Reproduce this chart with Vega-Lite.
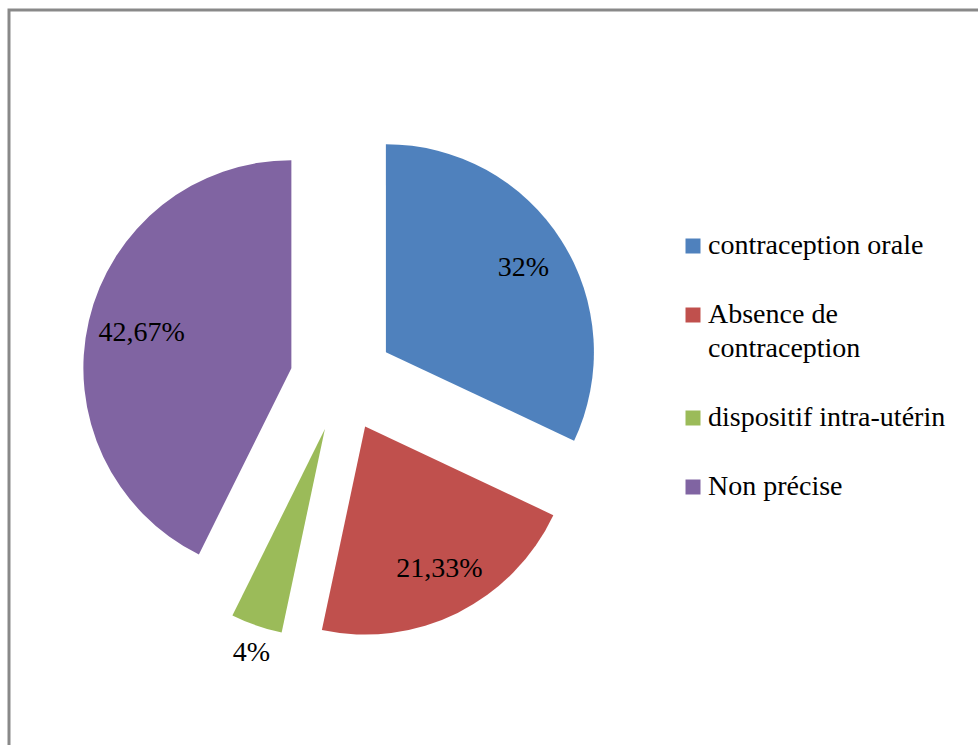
{
  "$schema": "https://vega.github.io/schema/vega-lite/v6.json",
  "width": 1000,
  "height": 760,
  "autosize": {"type": "none"},
  "padding": {"left": 9, "top": 10, "right": 0, "bottom": 0},
  "background": "white",
  "view": {"stroke": "#898989", "strokeWidth": 3, "fill": "white"},
  "config": {
    "view": {"stroke": "#898989", "strokeWidth": 3},
    "text": {"font": "Liberation Serif"},
    "style": {"guide-label": {"lineHeight": 34}}
  },
  "data": {
    "values": [
      {"category": "contraception orale", "value": 24, "label": "32%", "idx": 1},
      {"category": "Absence de contraception", "value": 16, "label": "21,33%", "idx": 2},
      {"category": " dispositif intra-utérin", "value": 3, "label": "4%", "idx": 3},
      {"category": "Non précise", "value": 32, "label": "42,67%", "idx": 4}
    ]
  },
  "encoding": {
    "theta": {"field": "value", "type": "quantitative", "stack": true},
    "order": {"field": "idx", "type": "quantitative", "sort": "ascending"}
  },
  "layer": [
    {
      "mark": {
        "type": "arc",
        "radius": 208,
        "x": 333,
        "y": 370,
        "xOffset": {"expr": "52*sin(PI*(datum.value_start+datum.value_end)/75)"},
        "yOffset": {"expr": "-52*cos(PI*(datum.value_start+datum.value_end)/75)"}
      },
      "encoding": {
        "color": {
          "field": "category",
          "type": "nominal",
          "scale": {
            "domain": ["contraception orale", "Absence de contraception", " dispositif intra-utérin", "Non précise"],
            "range": ["#4F81BD", "#C0504D", "#9BBB59", "#8064A2"]
          },
          "legend": {
            "title": null,
            "orient": "none",
            "legendX": 670,
            "legendY": 222,
            "padding": 0,
            "symbolType": "square",
            "symbolSize": 225,
            "symbolStrokeWidth": 0,
            "symbolOpacity": 1,
            "labelFont": "Liberation Serif",
            "labelFontSize": 28,
            "labelColor": "black",
            "labelLimit": 0,
            "labelOffset": 1,
            "rowPadding": 41,
            "labelExpr": "datum.label == 'Absence de contraception' ? ['Absence de', 'contraception'] : datum.label"
          }
        }
      }
    },
    {
      "mark": {
        "type": "text",
        "x": 333,
        "y": 370,
        "radius": {"expr": "datum.value < 5 ? 236 : 158"},
        "xOffset": {"expr": "52*sin(PI*(datum.value_start+datum.value_end)/75)"},
        "yOffset": {"expr": "-52*cos(PI*(datum.value_start+datum.value_end)/75)"},
        "font": "Liberation Serif",
        "fontSize": 28,
        "color": "black",
        "dx": 4,
        "dy": 1
      },
      "encoding": {
        "text": {"field": "label", "type": "nominal"}
      }
    }
  ]
}
